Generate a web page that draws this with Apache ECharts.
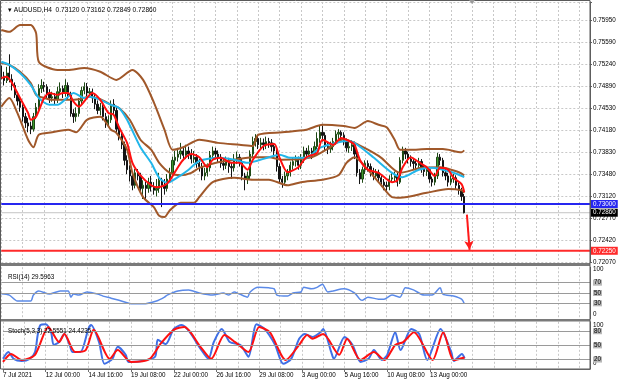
<!DOCTYPE html>
<html><head><meta charset="utf-8">
<script src="https://cdn.jsdelivr.net/npm/echarts@6/dist/echarts.min.js"></script>
<style>html,body{margin:0;padding:0;background:#fff}#c{width:620px;height:383px}</style>
</head><body><div id="c"></div>
<script>
const symbolName = 'AUDUSD,H4';
const lastOHLC = ['0.73120', '0.73162', '0.72849', '0.72860'];
const rsiTitle = 'RSI(14) 29.5963';
const stochTitle = 'Stoch(5,3,3) 22.5551 24.4235';
const xTickLabels = ['7 Jul 2021','12 Jul 00:00','14 Jul 16:00','19 Jul 08:00','22 Jul 00:00','26 Jul 16:00','29 Jul 08:00','3 Aug 00:00','5 Aug 16:00','10 Aug 08:00','13 Aug 00:00'];
const priceTickLabels = ['0.72070','0.72420','0.72770','0.73120','0.73480','0.73830','0.74180','0.74530','0.74890','0.75240','0.75590','0.75950'];
const slotCount = 221;
const categories = Array.from({length: slotCount}, (_, i) => String(i));

// [open, close, low, high]
const candles = [
[0.7518,0.7505,0.7500,0.7522],[0.7505,0.7498,0.7490,0.7512],[0.7498,0.7510,0.7494,0.7520],[0.7510,0.7500,0.7495,0.7540],
[0.7500,0.7490,0.7482,0.7508],[0.7490,0.7475,0.7470,0.7495],[0.7475,0.7465,0.7458,0.7480],[0.7465,0.7455,0.7448,0.7470],
[0.7455,0.7440,0.7432,0.7460],[0.7440,0.7430,0.7422,0.7446],[0.7430,0.7425,0.7415,0.7438],[0.7425,0.7420,0.7412,0.7432],
[0.7420,0.7440,0.7416,0.7446],[0.7440,0.7455,0.7436,0.7462],[0.7455,0.7485,0.7450,0.7492],[0.7485,0.7490,0.7478,0.7500],
[0.7490,0.7488,0.7480,0.7496],[0.7488,0.7478,0.7470,0.7492],[0.7478,0.7470,0.7462,0.7484],[0.7470,0.7472,0.7464,0.7480],
[0.7472,0.7468,0.7460,0.7478],[0.7468,0.7480,0.7462,0.7488],[0.7480,0.7485,0.7474,0.7495],[0.7485,0.7478,0.7470,0.7490],
[0.7478,0.7490,0.7472,0.7500],[0.7490,0.7475,0.7468,0.7495],[0.7475,0.7445,0.7440,0.7480],[0.7445,0.7440,0.7430,0.7452],
[0.7440,0.7445,0.7432,0.7455],[0.7445,0.7465,0.7440,0.7470],[0.7465,0.7482,0.7460,0.7488],[0.7482,0.7488,0.7476,0.7495],
[0.7488,0.7478,0.7470,0.7494],[0.7478,0.7480,0.7472,0.7486],[0.7480,0.7470,0.7462,0.7485],[0.7470,0.7460,0.7452,0.7476],
[0.7460,0.7450,0.7444,0.7466],[0.7450,0.7455,0.7442,0.7462],[0.7455,0.7440,0.7434,0.7460],[0.7440,0.7430,0.7422,0.7446],
[0.7430,0.7435,0.7425,0.7442],[0.7435,0.7460,0.7430,0.7466],[0.7460,0.7450,0.7444,0.7468],[0.7450,0.7420,0.7415,0.7455],
[0.7420,0.7410,0.7402,0.7428],[0.7410,0.7395,0.7388,0.7415],[0.7395,0.7370,0.7362,0.7400],[0.7370,0.7355,0.7348,0.7378],
[0.7355,0.7345,0.7336,0.7362],[0.7345,0.7330,0.7322,0.7352],[0.7330,0.7350,0.7325,0.7356],[0.7350,0.7345,0.7338,0.7356],
[0.7345,0.7325,0.7318,0.7350],[0.7325,0.7330,0.7308,0.7338],[0.7330,0.7325,0.7305,0.7336],[0.7325,0.7335,0.7318,0.7342],
[0.7335,0.7328,0.7320,0.7345],[0.7328,0.7322,0.7315,0.7335],[0.7322,0.7325,0.7312,0.7340],[0.7325,0.7338,0.7318,0.7350],
[0.7338,0.7330,0.7295,0.7342],[0.7330,0.7325,0.7315,0.7340],[0.7325,0.7340,0.7320,0.7348],[0.7340,0.7350,0.7334,0.7358],
[0.7350,0.7370,0.7345,0.7376],[0.7370,0.7375,0.7362,0.7385],[0.7375,0.7380,0.7368,0.7390],[0.7380,0.7385,0.7372,0.7398],
[0.7385,0.7378,0.7370,0.7392],[0.7378,0.7385,0.7372,0.7395],[0.7385,0.7380,0.7372,0.7392],[0.7380,0.7372,0.7365,0.7388],
[0.7372,0.7375,0.7366,0.7385],[0.7375,0.7365,0.7358,0.7380],[0.7365,0.7360,0.7352,0.7372],[0.7360,0.7345,0.7338,0.7366],
[0.7345,0.7350,0.7338,0.7358],[0.7350,0.7358,0.7344,0.7365],[0.7358,0.7378,0.7352,0.7385],[0.7378,0.7385,0.7372,0.7392],
[0.7385,0.7380,0.7372,0.7390],[0.7380,0.7375,0.7366,0.7386],[0.7375,0.7365,0.7358,0.7380],[0.7365,0.7362,0.7354,0.7372],
[0.7362,0.7368,0.7356,0.7376],[0.7368,0.7360,0.7350,0.7374],[0.7360,0.7358,0.7340,0.7366],[0.7358,0.7372,0.7352,0.7380],
[0.7372,0.7375,0.7364,0.7384],[0.7375,0.7368,0.7360,0.7380],[0.7368,0.7345,0.7338,0.7372],[0.7345,0.7340,0.7322,0.7350],
[0.7340,0.7345,0.7332,0.7352],[0.7345,0.7380,0.7340,0.7386],[0.7380,0.7400,0.7374,0.7408],[0.7400,0.7405,0.7392,0.7412],
[0.7405,0.7395,0.7388,0.7410],[0.7395,0.7398,0.7388,0.7406],[0.7398,0.7395,0.7386,0.7405],[0.7395,0.7400,0.7388,0.7408],
[0.7400,0.7398,0.7390,0.7406],[0.7398,0.7392,0.7384,0.7404],[0.7392,0.7385,0.7378,0.7398],[0.7385,0.7360,0.7352,0.7390],
[0.7360,0.7340,0.7332,0.7365],[0.7340,0.7335,0.7326,0.7345],[0.7335,0.7345,0.7330,0.7352],[0.7345,0.7350,0.7338,0.7356],
[0.7350,0.7362,0.7344,0.7368],[0.7362,0.7368,0.7355,0.7375],[0.7368,0.7370,0.7360,0.7378],[0.7370,0.7362,0.7355,0.7376],
[0.7362,0.7372,0.7356,0.7380],[0.7372,0.7385,0.7366,0.7392],[0.7385,0.7380,0.7372,0.7390],[0.7380,0.7385,0.7374,0.7394],
[0.7385,0.7380,0.7372,0.7390],[0.7380,0.7392,0.7376,0.7400],[0.7392,0.7405,0.7388,0.7415],[0.7405,0.7415,0.7398,0.7425],
[0.7415,0.7410,0.7400,0.7426],[0.7410,0.7392,0.7386,0.7415],[0.7392,0.7388,0.7380,0.7398],[0.7388,0.7392,0.7382,0.7400],
[0.7392,0.7400,0.7386,0.7406],[0.7400,0.7412,0.7395,0.7418],[0.7412,0.7415,0.7404,0.7420],[0.7415,0.7410,0.7402,0.7418],
[0.7410,0.7400,0.7394,0.7415],[0.7400,0.7390,0.7384,0.7405],[0.7390,0.7392,0.7382,0.7400],[0.7392,0.7395,0.7385,0.7402],
[0.7395,0.7380,0.7372,0.7400],[0.7380,0.7350,0.7344,0.7385],[0.7350,0.7340,0.7332,0.7356],[0.7340,0.7355,0.7334,0.7360],
[0.7355,0.7365,0.7348,0.7370],[0.7365,0.7360,0.7352,0.7370],[0.7360,0.7352,0.7344,0.7365],[0.7352,0.7345,0.7338,0.7358],
[0.7345,0.7350,0.7340,0.7356],[0.7350,0.7342,0.7335,0.7355],[0.7342,0.7335,0.7328,0.7348],[0.7335,0.7330,0.7322,0.7340],
[0.7330,0.7328,0.7320,0.7336],[0.7328,0.7340,0.7322,0.7346],[0.7340,0.7342,0.7334,0.7350],[0.7342,0.7345,0.7336,0.7352],
[0.7345,0.7335,0.7328,0.7350],[0.7335,0.7370,0.7332,0.7375],[0.7370,0.7385,0.7365,0.7392],[0.7385,0.7380,0.7372,0.7390],
[0.7380,0.7372,0.7365,0.7384],[0.7372,0.7368,0.7360,0.7378],[0.7368,0.7365,0.7356,0.7374],[0.7365,0.7362,0.7354,0.7370],
[0.7362,0.7368,0.7355,0.7374],[0.7368,0.7358,0.7350,0.7372],[0.7358,0.7352,0.7344,0.7362],[0.7352,0.7355,0.7345,0.7360],
[0.7355,0.7340,0.7334,0.7358],[0.7340,0.7335,0.7328,0.7344],[0.7335,0.7345,0.7330,0.7350],[0.7345,0.7375,0.7340,0.7382],
[0.7375,0.7370,0.7362,0.7380],[0.7370,0.7350,0.7344,0.7374],[0.7350,0.7345,0.7338,0.7356],[0.7345,0.7335,0.7328,0.7350],
[0.7335,0.7340,0.7330,0.7346],[0.7340,0.7342,0.7334,0.7348],[0.7342,0.7330,0.7324,0.7346],[0.7330,0.7322,0.7315,0.7335],
[0.7322,0.7312,0.7305,0.7326],[0.73120,0.72860,0.72849,0.73162]
];

const bbUpper = [[0,0.7579],[3,0.7576],[7,0.7587],[11,0.7587],[13,0.7574],[14,0.7528],[21,0.7515],[25,0.7515],[31,0.7518],[37,0.7512],[43,0.7499],[49,0.7515],[53,0.7499],[57,0.7463],[61,0.7419],[64,0.7387],[68,0.7391],[74,0.7403],[81,0.7398],[89,0.7395],[94,0.7393],[96,0.7411],[105,0.7415],[114,0.7419],[120,0.7427],[128,0.7425],[132,0.7422],[137,0.7433],[141,0.7427],[144,0.7423],[147,0.7403],[149,0.7387],[153,0.7387],[159,0.7388],[165,0.7388],[172,0.7383],[173,0.7386]];
const bbMiddle = [[0,0.7526],[3,0.7523],[7,0.7512],[11,0.7494],[13,0.7475],[16,0.7470],[19,0.7467],[25,0.7467],[29,0.7468],[33,0.7472],[37,0.7468],[41,0.7459],[44,0.7454],[48,0.7435],[52,0.7403],[56,0.7387],[59,0.7366],[63,0.7350],[67,0.7346],[71,0.7350],[74,0.7358],[81,0.7367],[87,0.7371],[94,0.7375],[100,0.7375],[105,0.7371],[116,0.7375],[123,0.7391],[128,0.7404],[132,0.7398],[137,0.7387],[142,0.7374],[149,0.7350],[157,0.7358],[164,0.7359],[171,0.7351],[173,0.7346]];
const bbLower = [[0,0.7456],[3,0.7470],[6,0.7446],[10,0.7403],[12,0.7391],[14,0.7411],[19,0.7415],[25,0.7419],[28,0.7415],[32,0.7435],[37,0.7440],[41,0.7419],[43,0.7414],[47,0.7387],[49,0.7350],[53,0.7311],[57,0.7295],[59,0.7281],[61,0.7279],[63,0.7290],[67,0.7302],[72,0.7302],[74,0.7311],[79,0.7335],[87,0.7342],[94,0.7339],[100,0.7339],[107,0.7330],[112,0.7335],[120,0.7339],[126,0.7346],[129,0.7366],[132,0.7375],[137,0.7355],[142,0.7330],[146,0.7311],[149,0.7310],[159,0.7318],[167,0.7324],[172,0.7322],[173,0.7318]];
const maSlow = [[0,0.7528],[3,0.7523],[7,0.7510],[11,0.7491],[14,0.7470],[18,0.7459],[21,0.7459],[25,0.7472],[27,0.7478],[31,0.7470],[33,0.7472],[37,0.7467],[41,0.7459],[44,0.7454],[47,0.7435],[52,0.7391],[56,0.7366],[59,0.7342],[62,0.7334],[66,0.7343],[70,0.7355],[74,0.7369],[81,0.7374],[87,0.7371],[92,0.7366],[100,0.7375],[104,0.7379],[108,0.7374],[114,0.7374],[119,0.7390],[126,0.7399],[130,0.7401],[133,0.7395],[139,0.7375],[146,0.7350],[150,0.7343],[156,0.7355],[161,0.7358],[165,0.7355],[169,0.7350],[173,0.7343]];
const maFast = [[0,0.7502],[2,0.7504],[4,0.7494],[7,0.7470],[10,0.7446],[11,0.7435],[13,0.7440],[16,0.7470],[18,0.7478],[21,0.7475],[23,0.7478],[25,0.7478],[27,0.7464],[29,0.7456],[32,0.7470],[34,0.7478],[37,0.7467],[40,0.7446],[42,0.7443],[44,0.7423],[47,0.7398],[49,0.7366],[52,0.7346],[56,0.7330],[58,0.7327],[61,0.7330],[63,0.7338],[66,0.7359],[68,0.7371],[71,0.7380],[74,0.7375],[77,0.7359],[79,0.7371],[82,0.7374],[86,0.7366],[89,0.7366],[92,0.7355],[94,0.7371],[98,0.7393],[102,0.7396],[104,0.7374],[107,0.7351],[111,0.7359],[114,0.7375],[118,0.7382],[120,0.7403],[124,0.7395],[127,0.7406],[130,0.7401],[132,0.7395],[134,0.7371],[137,0.7355],[141,0.7350],[146,0.7335],[148,0.7338],[150,0.7359],[153,0.7375],[156,0.7367],[159,0.7359],[162,0.7345],[164,0.7358],[167,0.7355],[169,0.7342],[172,0.7332],[173,0.7319]];

const rsiValues = [[0,48.6],[3,46],[6,34.5],[11,34.5],[12,46],[14,54],[18,48],[22,54],[25,54],[26,42],[27,48],[29,46],[32,52],[36,48],[38,44],[41,40],[44,36],[49,29],[53,29],[58,34.5],[61,42],[62,46],[66,54],[70,56],[74,50],[79,46],[83,50],[85,46],[87,52],[89,48],[92,42],[93,52],[96,61],[100,60],[102,58],[103,46],[107,44],[109,50],[112,52],[113,61],[116,58],[118,61],[120,67],[122,52],[124,54],[128,58],[132,50],[134,38],[135,36],[137,42],[141,38],[143,38],[146,46],[149,42],[151,60],[154,56],[158,46],[161,46],[164,60],[165,48],[169,44],[172,38],[173,29.6]];
const stochMain = [[0,21.5],[2,36],[4,21.5],[7,17],[10,21.5],[12,36],[13,72],[14,93],[16,95],[18,78],[19,51],[21,57],[23,74],[25,51],[26,36],[29,36],[32,85],[33,93],[36,57],[38,11],[41,21.5],[43,47],[46,30],[47,15],[52,17],[57,26],[58,62],[61,53],[64,85],[67,93],[70,78],[74,43],[77,21.5],[79,57],[82,85],[85,57],[89,51],[92,26],[95,95],[98,85],[102,51],[105,11],[108,21.5],[111,64],[113,74],[116,68],[119,78],[120,85],[123,36],[124,21.5],[128,68],[131,51],[134,15],[137,21.5],[139,40],[142,19],[144,30],[147,78],[149,40],[153,85],[156,74],[159,19],[164,85],[168,36],[169,17],[172,32],[173,22.56]];
const stochSignal = [[0,15],[3,32],[7,19],[12,30],[17,89],[21,57],[23,74],[27,36],[31,40],[34,83],[40,21.5],[43,40],[48,15],[55,21.5],[59,53],[64,83],[68,89],[74,47],[78,21.5],[83,72],[87,57],[92,36],[96,89],[100,78],[106,19],[111,51],[114,72],[116,64],[120,74],[126,30],[129,64],[134,19],[139,36],[143,19],[147,51],[150,57],[154,78],[161,19],[165,78],[169,19],[173,24.42]];

const rsiLevels = [30, 50, 70];
const stochLevels = [20, 50, 80];
const supportLevel = 0.73000;
const targetLevel = 0.72250;
const bidLevel = 0.72860;
const arrowFrom = [174, 0.72830];
const arrowTo = [175, 0.72265];

const FONT = 'Liberation Sans';
const FS = 6.3;
const yMin = 0.7207, yStep = 0.00352727, yMax = 0.762386;

const chart = echarts.init(document.getElementById('c'), null, {renderer: 'canvas'});

const boxRich = {
  box: {backgroundColor: '#b8b8b8', padding: [0, 1, 0, 1], fontSize: FS, fontFamily: FONT, color: '#000'},
  t: {padding: [5, 0, 0, 0], fontSize: FS, fontFamily: FONT, color: '#000'},
  b: {padding: [0, 0, 9, 0], fontSize: FS, fontFamily: FONT, color: '#000'},
  t2: {padding: [6, 0, 0, 0], fontSize: FS, fontFamily: FONT, color: '#000'},
  b2: {padding: [0, 0, 12, 0], fontSize: FS, fontFamily: FONT, color: '#000'}
};
const vSplit = {show: true, interval: 7, lineStyle: {color: '#c8c8c8', type: [2, 2], width: 1}};
const xBase = (gi, showLabels) => ({
  type: 'category', gridIndex: gi, data: categories, boundaryGap: false,
  axisLine: {show: showLabels, lineStyle: {color: '#707070'}},
  axisTick: {show: showLabels, length: 3, interval: (i) => i % 16 === 0 && i <= 160, lineStyle: {color: '#707070'}},
  axisLabel: {show: showLabels, interval: (i) => i % 16 === 0 && i <= 160, align: 'left', margin: 3,
    fontSize: FS, fontFamily: FONT, color: '#000',
    formatter: (v, idx) => xTickLabels[idx / 16] || ''},
  splitLine: vSplit
});
const lineS = (name, data, color, w, xi, yi, z) => ({
  type: 'line', name, data, xAxisIndex: xi, yAxisIndex: yi, showSymbol: false, symbol: 'none',
  smooth: 0.25, lineStyle: {color, width: w}, z: z || 3, silent: true, animation: false
});
const levelS = (name, level, color, width, labelBg, z) => ({
  type: 'line', name, xAxisIndex: 0, yAxisIndex: 0, showSymbol: false, symbol: 'none', silent: true,
  data: [[0, level], [slotCount - 1, level]], lineStyle: {color, width}, z: z,
  endLabel: {show: true, formatter: level.toFixed(5), color: '#fff', backgroundColor: labelBg,
    padding: [1, 2, 1, 2], distance: 1, fontSize: FS, fontFamily: FONT}
});

chart.setOption({
  animation: false,
  backgroundColor: '#ffffff',
  title: [
    {text: '\u25BE ' + symbolName + '  ' + lastOHLC.join(' '), left: 3, top: 2, textStyle: {fontSize: FS + 0.3, fontWeight: 'normal', color: '#000', fontFamily: FONT}},
    {text: rsiTitle, left: 3, top: 269, textStyle: {fontSize: FS, fontWeight: 'normal', color: '#000', fontFamily: FONT}},
    {text: stochTitle, left: 3, top: 323, textStyle: {fontSize: FS, fontWeight: 'normal', color: '#000', fontFamily: FONT}}
  ],
  grid: [
    {left: 1.3, right: 30, top: 2, height: 260},
    {left: 1.3, right: 30, top: 267.2, height: 51.6},
    {left: 1.3, right: 30, top: 321.8, height: 47.2}
  ],
  xAxis: [xBase(0, false), xBase(1, false), xBase(2, true)],
  yAxis: [
    {type: 'value', gridIndex: 0, position: 'right', min: yMin, max: yMax, interval: yStep,
      axisLine: {show: true, lineStyle: {color: '#606060'}},
      axisTick: {show: true, length: 2, lineStyle: {color: '#606060'}},
      axisLabel: {margin: 3, fontSize: FS, fontFamily: FONT, color: '#000',
        formatter: (v, idx) => priceTickLabels[idx] || ''},
      splitLine: {show: true, lineStyle: {color: '#c8c8c8', type: [2, 2]}}},
    {type: 'value', gridIndex: 1, position: 'right', min: 0, max: 100, interval: 10,
      axisLine: {show: true, lineStyle: {color: '#606060'}}, axisTick: {show: false},
      axisLabel: {margin: 3, rich: boxRich, fontSize: FS, fontFamily: FONT, color: '#000',
        formatter: (v) => v === 100 ? '{t|100}' : v === 0 ? '{b|0}' : rsiLevels.includes(v) ? '{box|' + v + '}' : ''},
      splitLine: {show: false}},
    {type: 'value', gridIndex: 2, position: 'right', min: 0, max: 100, interval: 10,
      axisLine: {show: true, lineStyle: {color: '#606060'}}, axisTick: {show: false},
      axisLabel: {margin: 3, rich: boxRich, fontSize: FS, fontFamily: FONT, color: '#000',
        formatter: (v) => v === 100 ? '{t2|100}' : v === 0 ? '{b2|0}' : stochLevels.includes(v) ? '{box|' + v + '}' : ''},
      splitLine: {show: false}}
  ],
  series: [
    levelS('Bid', bidLevel, '#c4c4c4', 1, '#000000', 1),
    levelS('Support', supportLevel, '#2626f0', 2, '#2626f0', 6),
    levelS('Target', targetLevel, '#ff2a2a', 2, '#ff2a2a', 6),
    {type: 'candlestick', name: 'AUDUSD', data: candles, xAxisIndex: 0, yAxisIndex: 0, barWidth: 1.8, z: 2,
      itemStyle: {color: '#3d9a2c', color0: '#141414', borderColor: '#1f4a16', borderColor0: '#141414', borderWidth: 1},
      markLine: {silent: true, symbol: ['none', 'none'], animation: false,
        data: [
          [{coord: arrowFrom, symbol: 'none'},
           {coord: arrowTo, symbol: 'arrow', symbolSize: [7, 9], lineStyle: {color: '#ff1a1a', width: 2, type: 'solid'}, label: {show: false}}]
        ]}},
    lineS('BB upper', bbUpper, '#a0582a', 2, 0, 0),
    lineS('BB middle', bbMiddle, '#a0582a', 2, 0, 0),
    lineS('BB lower', bbLower, '#a0582a', 2, 0, 0),
    lineS('MA slow', maSlow, '#22b6ea', 2, 0, 0, 4),
    lineS('MA fast', maFast, '#ff1010', 2, 0, 0, 5),
    Object.assign(lineS('RSI', rsiValues, '#5b8ae8', 1.5, 1, 1), {
      markLine: {silent: true, symbol: ['none', 'none'], label: {show: false},
        lineStyle: {color: '#9a9a9a', width: 1, type: 'solid'}, data: rsiLevels.map(v => ({yAxis: v}))}}),
    Object.assign(lineS('Stoch main', stochMain, '#3f6fe6', 2, 2, 2), {
      markLine: {silent: true, symbol: ['none', 'none'], label: {show: false},
        lineStyle: {color: '#9a9a9a', width: 1, type: 'solid'}, data: stochLevels.map(v => ({yAxis: v}))}}),
    lineS('Stoch signal', stochSignal, '#ff1010', 2, 2, 2, 4)
  ],
  graphic: [
    {type: 'rect', silent: true, z: 100, shape: {x: 0, y: 263, width: 590, height: 3}, style: {fill: '#7a7a7a'}},
    {type: 'rect', silent: true, z: 100, shape: {x: 0, y: 319, width: 590, height: 2.5}, style: {fill: '#7a7a7a'}},
    {type: 'rect', silent: true, z: 100, shape: {x: 0.5, y: 0.5, width: 589.5, height: 368.5}, style: {fill: 'none', stroke: '#5a5a5a', lineWidth: 1}},
    {type: 'polygon', silent: true, z: 100, shape: {points: [[469, 0], [475, 0], [472, 4]]}, style: {fill: '#9a9a9a'}}
  ]
});
</script></body></html>
